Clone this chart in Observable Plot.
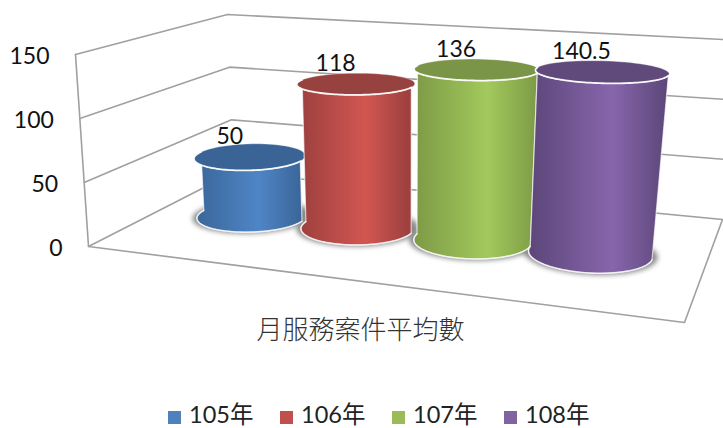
<!DOCTYPE html>
<html><head><meta charset="utf-8">
<script src="https://cdn.jsdelivr.net/npm/d3@7"></script>
<script src="https://cdn.jsdelivr.net/npm/@observablehq/plot@0.6"></script>
<style>
html,body{margin:0;padding:0;background:#fff;overflow:hidden}
#legend{display:flex;height:22px;margin-left:168px;font:23.5px Lato,"Noto Sans CJK TC",sans-serif;color:#222;line-height:20px}
#legend div{width:112px;display:flex;align-items:center;white-space:nowrap}
#legend span{display:block;height:20px;line-height:20px;position:relative;top:-3px}
#legend i{display:inline-block;flex:none;width:13px;height:13px;margin-right:8px}
</style></head><body>
<div id="chart"></div><div id="legend"></div>
<script>
const years = ["105年","106年","107年","108年"];
const values = [50,118,136,140.5];
const ticks = [0,50,100,150];
const title = "月服務案件平均數";
const sideDark = ["#3a6598","#9a3f3d","#7d9a46","#5b4678"];
const sideLight = ["#4f85c6","#d25652","#a3c95c","#8766ac"];
const topFill = ["#3a6495","#984240","#7a9448","#604a7c"];
const legendColor = ["#4f81bd","#c0504d","#9bbb59","#8064a2"];
const slots = [0.182,0.394,0.609,0.813];   // position of each cylinder along the floor

const W=723,H=406;
// view of the 3D box: corners front-left, front-right, back-right, back-left
const floor=[[88,246],[684,322],[722,219],[233,172]];
const ceil=[[75,54],[703,98],[747,40.2],[227,14]];
function homog(q){
  const [[x0,y0],[x1,y1],[x2,y2],[x3,y3]]=q;
  const dx1=x1-x2,dx2=x3-x2,sx=x0-x1+x2-x3,dy1=y1-y2,dy2=y3-y2,sy=y0-y1+y2-y3;
  const den=dx1*dy2-dx2*dy1,g=(sx*dy2-dx2*sy)/den,h=(dx1*sy-sx*dy1)/den;
  const a=x1-x0+g*x1,b=x3-x0+h*x3,d=y1-y0+g*y1,e=y3-y0+h*y3;
  return (u,v)=>{const w=g*u+h*v+1;return [(a*u+b*v+x0)/w,(d*u+e*v+y0)/w];};
}
const F=homog(floor),C=homog(ceil);
const vMax=150;
function P(u,d,v){const a=F(u,d),b=C(u,d),t=v/vMax;return {x:a[0]+(b[0]-a[0])*t,y:a[1]+(b[1]-a[1])*t};}
const ru=0.102,rd=0.19,dc=0.49;
const ring=(i,v,s=1,from=0,to=2*Math.PI)=>d3.range(73).map(k=>{const t=from+(to-from)*k/72;return P(slots[i]+ru*s*Math.cos(t),dc+rd*s*Math.sin(t),v);});

const wall=ticks.filter(v=>v>0).flatMap(v=>[P(0,0,v),P(0,1,v),P(1,1,v)].map(p=>({...p,v})));
const box=[P(0,1,0),P(0,0,0),P(1,0,0),P(1,1,0),P(0,1,0)];
const edge=[P(0,0,0),P(0,0,vMax)];
const line={x:"x",y:"y",stroke:"#a0a0a0",strokeWidth:1.6};
const blur=(px)=>(index,scales,vals,dims,ctx,next)=>{const g=next(index,scales,vals,dims,ctx);g.style.filter=`blur(${px}px)`;return g;};

const defs=()=>{
  const s=d3.create("svg:defs");
  years.forEach((_,i)=>{
    const g=s.append("linearGradient").attr("id","side"+i).attr("x1",0).attr("x2",1).attr("y1",0).attr("y2",0);
    [[0,sideDark[i]],[0.6,sideLight[i]],[1,sideDark[i]]].forEach(([o,c])=>g.append("stop").attr("offset",o).attr("stop-color",c));
  });
  return s.node();
};
const marks=[defs];
// walls
marks.push(Plot.line(wall,{...line,z:"v"}),Plot.line(box,line),Plot.line(edge,line));
// shadows
years.forEach((_,i)=>marks.push(Plot.line(ring(i,0,1.08),{x:"x",y:"y",fill:"#6e6e6e",stroke:"none",fillOpacity:0.8,render:blur(2.5)})));
// cylinders
years.forEach((_,i)=>{
  const v=values[i];
  const side=[...ring(i,v,1,Math.PI,2*Math.PI),...ring(i,0,1,Math.PI,2*Math.PI).reverse()];
  marks.push(
    Plot.line([...side,side[0]],{x:"x",y:"y",fill:`url(#side${i})`,stroke:"#fff",strokeOpacity:0.65,strokeWidth:1.2}),
    Plot.line(ring(i,v),{x:"x",y:"y",fill:topFill[i],stroke:"#fff",strokeOpacity:0.35,strokeWidth:1}),
    Plot.line(ring(i,v,1,Math.PI,2*Math.PI),{x:"x",y:"y",stroke:"#fff",strokeOpacity:0.9,strokeWidth:1.8}),
    Plot.line(ring(i,0,1,Math.PI,2*Math.PI),{x:"x",y:"y",stroke:"#fff",strokeOpacity:0.7,strokeWidth:1.5})
  );
});
// value labels
const labels=values.map((v,i)=>({...P(slots[i],dc,v),t:String(v)}));
marks.push(Plot.text(labels,{x:"x",y:"y",text:"t",dx:-20,dy:-20,fontSize:23,fontFamily:"Lato, sans-serif",fill:"#111"}));
// axis labels
const tickRows=ticks.map(v=>({...P(0,0,v),t:String(v)}));
marks.push(Plot.text(tickRows,{x:"x",y:"y",text:"t",dx:-26,dy:2,textAnchor:"end",fontSize:23,fontFamily:"Lato, sans-serif",fill:"#111"}));
// series-axis title
marks.push(Plot.text([{x:360,y:330,t:title}],{x:"x",y:"y",text:"t",fontSize:26,fontWeight:300,fontFamily:'"Noto Sans CJK TC", sans-serif',fill:"#333"}));

document.getElementById("chart").append(Plot.plot({
  width:W,height:H,margin:0,
  style:{background:"#fff",display:"block"},
  x:{domain:[0,W],range:[0,W],axis:null},
  y:{domain:[0,H],range:[0,H],axis:null},
  marks
}));
const lg=d3.select("#legend");
years.forEach((y,i)=>{const d=lg.append("div");d.append("i").style("background",legendColor[i]);d.append("span").text(y);});
</script></body></html>
